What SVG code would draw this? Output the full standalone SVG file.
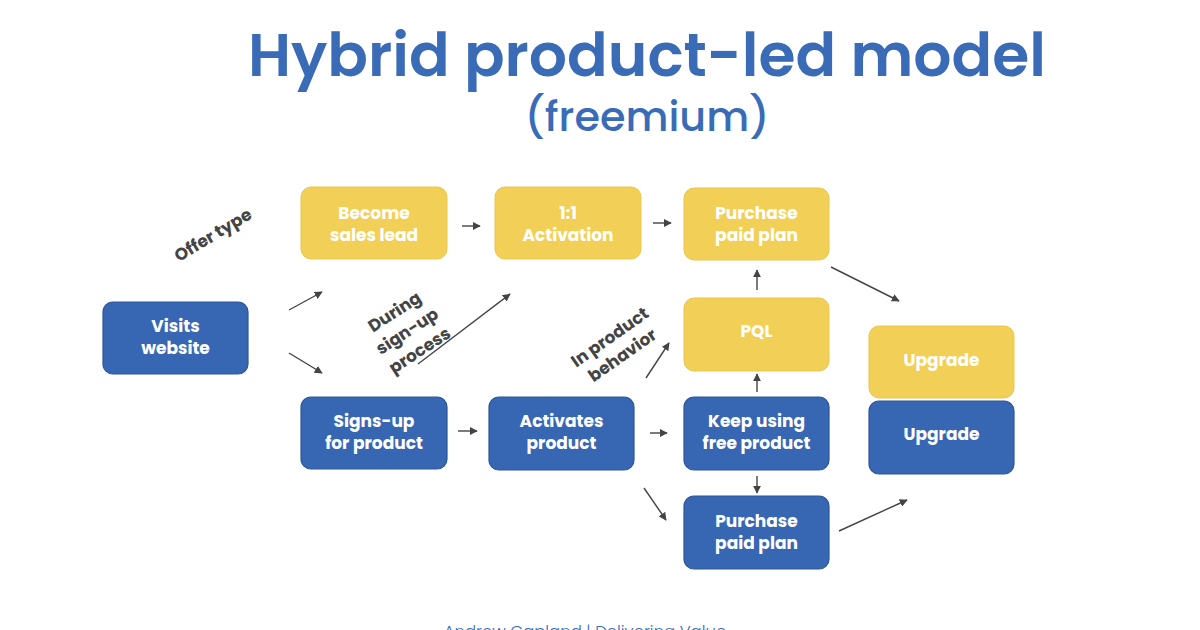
<svg xmlns="http://www.w3.org/2000/svg" width="1200" height="630" viewBox="0 0 1200 630">
<style>
.title{font-family:Poppins,"Open Sans","Liberation Sans",sans-serif;font-weight:600;fill:#3A6BB7;text-anchor:middle}
.sub{font-family:Poppins,"Open Sans","Liberation Sans",sans-serif;font-weight:500;fill:#3A6BB7;text-anchor:middle}
.blue rect{fill:#3766B3;stroke:#2C5699;stroke-width:1.2}
.yellow rect{fill:#F2CF56;stroke:#EBC64C;stroke-width:1}
.nt{font-family:Poppins,"Open Sans","Liberation Sans",sans-serif;font-weight:700;font-size:17px;fill:#fff;text-anchor:middle}
.lbl{font-family:Poppins,"Open Sans","Liberation Sans",sans-serif;font-weight:700;font-size:17px;fill:#444;text-anchor:middle}
.conn line{stroke:#444;stroke-width:1.4;marker-end:url(#ah)}
.foot{font-family:Poppins,"Open Sans","Liberation Sans",sans-serif;font-weight:300;font-size:16.5px;fill:#3A6BB7;text-anchor:middle}
</style>
<defs>
<marker id="ah" viewBox="0 0 10 10" refX="9" refY="5" markerWidth="8" markerHeight="8" markerUnits="userSpaceOnUse" orient="auto">
<path d="M0,0 L10,5 L0,10 z" fill="#444"/>
</marker>
</defs>
<rect width="1200" height="630" fill="#fff"/>
<text class="title" x="647" y="76" font-size="60" textLength="798" lengthAdjust="spacingAndGlyphs">Hybrid product-led model</text>
<text class="sub" x="647" y="131" font-size="40" textLength="245" lengthAdjust="spacingAndGlyphs">(freemium)</text>

<g id="visits" class="blue"><rect x="103" y="302" width="145" height="72" rx="10"/><text class="nt" x="175.5" y="332">Visits</text><text class="nt" x="175.5" y="354">website</text></g>
<g id="sales-lead" class="yellow"><rect x="301" y="187" width="146" height="72" rx="10"/><text class="nt" x="374" y="219">Become</text><text class="nt" x="374" y="241">sales lead</text></g>
<g id="activation" class="yellow"><rect x="495" y="187" width="146" height="72" rx="10"/><text class="nt" x="568" y="219">1:1</text><text class="nt" x="568" y="241">Activation</text></g>
<g id="purchase-y" class="yellow"><rect x="684" y="188" width="145" height="72" rx="10"/><text class="nt" x="756.5" y="219">Purchase</text><text class="nt" x="756.5" y="241">paid plan</text></g>
<g id="pql" class="yellow"><rect x="684" y="298" width="145" height="73" rx="10"/><text class="nt" x="756.5" y="337">PQL</text></g>
<g id="upgrade-y" class="yellow"><rect x="869" y="326" width="145" height="72" rx="10"/><text class="nt" x="941.5" y="366">Upgrade</text></g>
<g id="upgrade-b" class="blue"><rect x="869" y="401" width="145" height="73" rx="10"/><text class="nt" x="941.5" y="440">Upgrade</text></g>
<g id="signup" class="blue"><rect x="301" y="397" width="146" height="72" rx="10"/><text class="nt" x="374" y="427">Signs-up</text><text class="nt" x="374" y="449">for product</text></g>
<g id="activates" class="blue"><rect x="489" y="397" width="145" height="73" rx="10"/><text class="nt" x="561.5" y="427">Activates</text><text class="nt" x="561.5" y="449">product</text></g>
<g id="keep" class="blue"><rect x="684" y="397" width="145" height="73" rx="10"/><text class="nt" x="756.5" y="427">Keep using</text><text class="nt" x="756.5" y="449">free product</text></g>
<g id="purchase-b" class="blue"><rect x="684" y="496" width="145" height="73" rx="10"/><text class="nt" x="756.5" y="527">Purchase</text><text class="nt" x="756.5" y="549">paid plan</text></g>

<g id="connectors" class="conn">
<line x1="462" y1="226" x2="480" y2="226"/>
<line x1="653" y1="223" x2="671" y2="223"/>
<line x1="289" y1="310" x2="322" y2="292"/>
<line x1="289" y1="353" x2="322" y2="373"/>
<line x1="418" y1="364" x2="510" y2="294"/>
<line x1="458" y1="431" x2="477" y2="431"/>
<line x1="650" y1="433" x2="667" y2="433"/>
<line x1="646" y1="378" x2="669" y2="343"/>
<line x1="757" y1="392" x2="757" y2="374"/>
<line x1="757" y1="290" x2="757" y2="270"/>
<line x1="757" y1="476" x2="757" y2="493"/>
<line x1="644" y1="488" x2="666" y2="520"/>
<line x1="831" y1="267" x2="899" y2="301"/>
<line x1="839" y1="531" x2="907" y2="500"/>
</g>

<g id="labels">
<text class="lbl" transform="translate(216,240) rotate(-31)">Offer type</text>
<g transform="translate(407,331) rotate(-33)">
<text class="lbl" x="0" y="-17">During</text>
<text class="lbl" x="0" y="6">sign-up</text>
<text class="lbl" x="0" y="29">process</text>
</g>
<g transform="translate(616,346) rotate(-35)">
<text class="lbl" x="0" y="-5">In product</text>
<text class="lbl" x="0" y="17">behavior</text>
</g>
</g>
<text class="foot" x="585" y="637">Andrew Capland | Delivering Value</text>
</svg>
